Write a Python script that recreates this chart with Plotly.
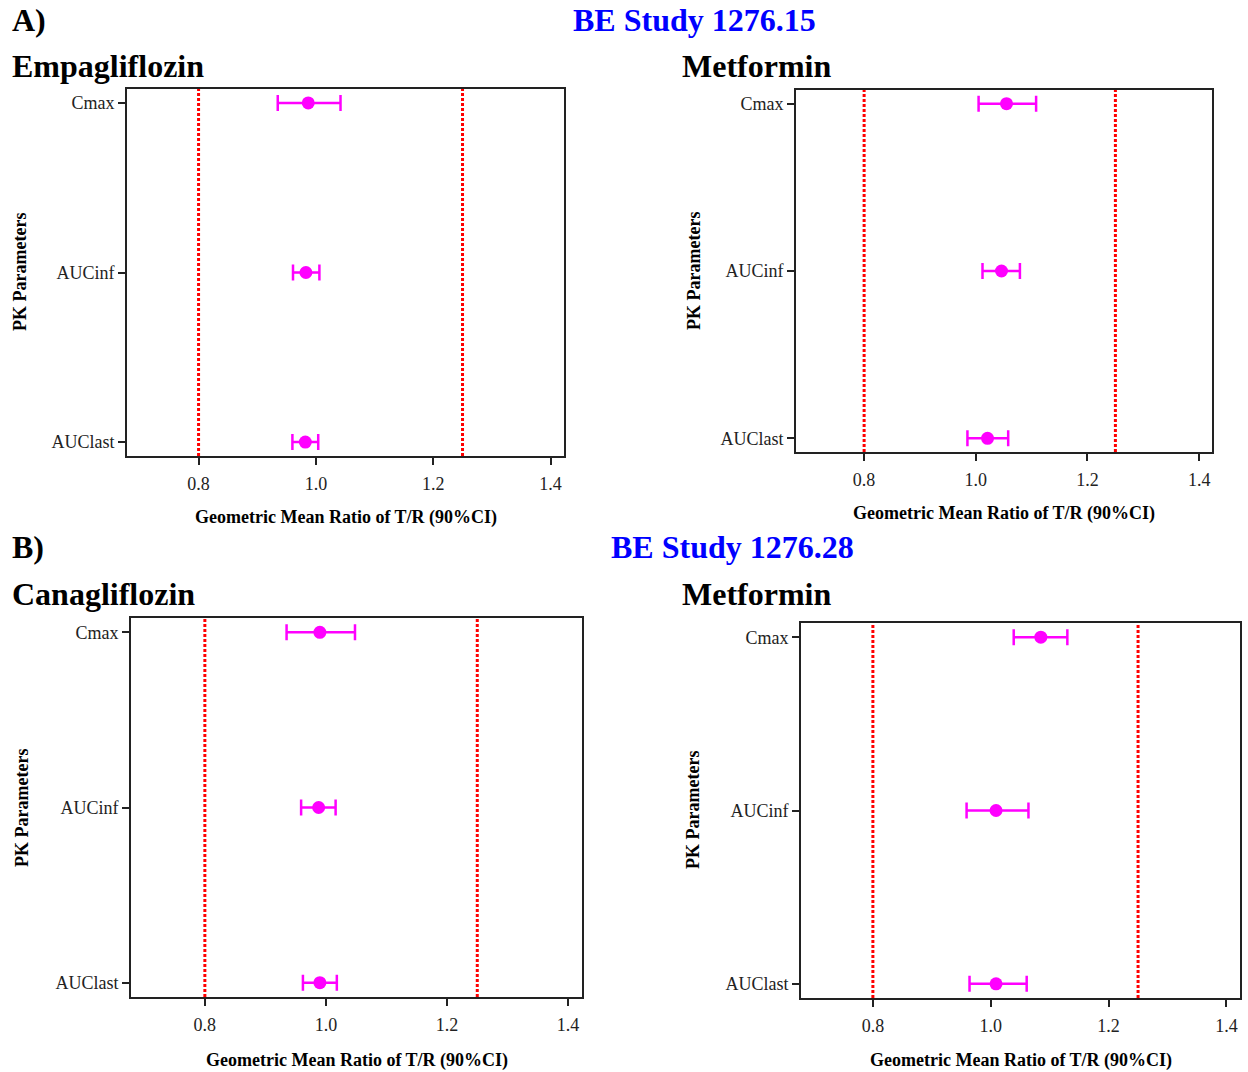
import plotly.graph_objects as go

params = ["AUClast", "AUCinf", "Cmax"]

# Panel A-left: Empagliflozin (BE Study 1276.15)
empa_gmr = [0.982, 0.983, 0.987]
empa_lo = [0.960, 0.961, 0.935]
empa_hi = [1.004, 1.006, 1.042]

# Panel A-right: Metformin (BE Study 1276.15)
met15_gmr = [1.021, 1.046, 1.055]
met15_lo = [0.985, 1.012, 1.005]
met15_hi = [1.058, 1.079, 1.108]

# Panel B-left: Canagliflozin (BE Study 1276.28)
cana_gmr = [0.990, 0.988, 0.990]
cana_lo = [0.962, 0.959, 0.935]
cana_hi = [1.018, 1.016, 1.048]

# Panel B-right: Metformin (BE Study 1276.28)
met28_gmr = [1.009, 1.009, 1.085]
met28_lo = [0.964, 0.959, 1.039]
met28_hi = [1.061, 1.064, 1.130]

be_limits = [0.8, 1.25]
x_ticks = [0.8, 1.0, 1.2, 1.4]
x_ticktext = ["0.8", "1.0", "1.2", "1.4"]

W, H = 1248, 1072
FONT = "Liberation Serif, Times New Roman, serif"

# panel frames in pixels: left, right, top, bottom
panels = [
    dict(gmr=empa_gmr, lo=empa_lo, hi=empa_hi, box=(127, 564, 89, 456)),
    dict(gmr=met15_gmr, lo=met15_lo, hi=met15_hi, box=(796, 1212, 90, 452)),
    dict(gmr=cana_gmr, lo=cana_lo, hi=cana_hi, box=(131, 582, 618, 997)),
    dict(gmr=met28_gmr, lo=met28_lo, hi=met28_hi, box=(801, 1240, 623, 998)),
]

fig = go.Figure()
layout_axes = {}
shapes = []
for i, p in enumerate(panels, start=1):
    xa = "x" if i == 1 else f"x{i}"
    ya = "y" if i == 1 else f"y{i}"
    l, r, t, b = p["box"]
    fig.add_trace(go.Scatter(
        x=p["gmr"], y=params, xaxis=xa, yaxis=ya, mode="markers",
        marker=dict(color="#FF00FF", size=13),
        error_x=dict(type="data", symmetric=False,
                     array=[h - g for h, g in zip(p["hi"], p["gmr"])],
                     arrayminus=[g - lo for g, lo in zip(p["gmr"], p["lo"])],
                     color="#FF00FF", thickness=2.5, width=8),
        showlegend=False, hoverinfo="skip"))
    axkey = "xaxis" if i == 1 else f"xaxis{i}"
    aykey = "yaxis" if i == 1 else f"yaxis{i}"
    layout_axes[axkey] = dict(
        domain=[l / W, r / W], anchor=ya, range=[0.678, 1.423],
        tickvals=x_ticks, ticktext=x_ticktext, ticks="outside", ticklen=7,
        tickwidth=1.5, tickcolor="#222", showline=True, linecolor="#222",
        linewidth=2, mirror=True, showgrid=False, zeroline=False,
        ticklabelstandoff=3,
        tickfont=dict(family=FONT, size=18, color="#222"))
    layout_axes[aykey] = dict(
        domain=[1 - b / H, 1 - t / H], anchor=xa, type="category",
        categoryorder="array", categoryarray=params, range=[-0.082, 2.082],
        ticks="outside", ticklen=7, tickwidth=1.5, tickcolor="#222",
        showline=True, linecolor="#222", linewidth=2, mirror=True,
        showgrid=False, zeroline=False,
        tickfont=dict(family=FONT, size=18, color="#222"))
    for v in be_limits:
        shapes.append(dict(type="line", xref=xa, yref=f"{ya} domain",
                           x0=v, x1=v, y0=0, y1=1,
                           line=dict(color="#FF0000", width=3, dash="3px,2px")))

annotations = []


def ann(text, x, y, size, color="black", xanchor="left", angle=0):
    annotations.append(dict(text=text, x=x / W, y=1 - y / H, xref="paper",
                            yref="paper", xanchor=xanchor, yanchor="middle",
                            showarrow=False, textangle=angle,
                            font=dict(family=FONT, size=size, color=color)))


ann("<b>A)</b>", 10, 20, 32)
ann("<b>BE Study 1276.15</b>", 694, 20, 32, color="#0000FF", xanchor="center")
ann("<b>Empagliflozin</b>", 10, 66, 32)
ann("<b>Metformin</b>", 680, 66, 32)
ann("<b>B)</b>", 10, 547, 32)
ann("<b>BE Study 1276.28</b>", 732, 547, 32, color="#0000FF", xanchor="center")
ann("<b>Canagliflozin</b>", 10, 594, 32)
ann("<b>Metformin</b>", 680, 594, 32)

xt = "<b>Geometric Mean Ratio of T/R (90%CI)</b>"
ann(xt, 346, 517, 18, xanchor="center")
ann(xt, 1004, 513, 18, xanchor="center")
ann(xt, 357, 1060, 18, xanchor="center")
ann(xt, 1021, 1060, 18, xanchor="center")

yt = "<b>PK Parameters</b>"
ann(yt, 20, 272, 18, xanchor="center", angle=-90)
ann(yt, 694, 271, 18, xanchor="center", angle=-90)
ann(yt, 22, 808, 18, xanchor="center", angle=-90)
ann(yt, 693, 810, 18, xanchor="center", angle=-90)

fig.update_layout(width=W, height=H, margin=dict(l=0, r=0, t=0, b=0),
                  paper_bgcolor="white", plot_bgcolor="white",
                  shapes=shapes, annotations=annotations, **layout_axes)
fig.write_html("out.html")
